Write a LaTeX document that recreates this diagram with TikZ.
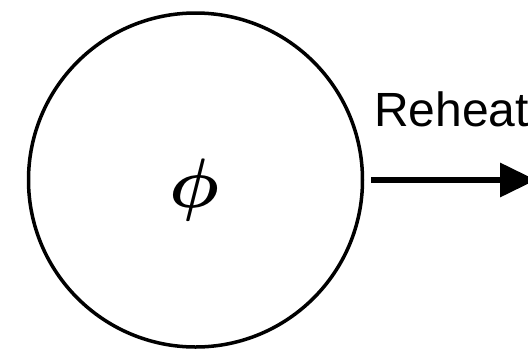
\documentclass[tikz,border=0pt]{standalone}
\usepackage{amsmath}
\usepackage{fontspec}
\setmainfont{Liberation Sans}
\usetikzlibrary{arrows.meta}
\begin{document}
\begin{tikzpicture}[x=1pt,y=-1pt,
  ring/.style={circle,draw,line width=3.5pt,minimum size=334pt,inner sep=0pt},
  flow/.style={line width=6.5pt,-{Triangle[length=36pt,width=33pt]}},
  lbl/.style={font=\fontsize{48}{48}\selectfont,anchor=base west,inner sep=0pt}]
\useasboundingbox (0,0) rectangle (528,349);
\clip (0,0) rectangle (528,349);
\node[ring] (c) at (195.5,180) {};
\node[anchor=center,inner sep=0pt] (phi) at (194.5,190) {\scalebox{7}{$\boldsymbol{\phi}$}};
\coordinate (s) at ([xshift=7pt]c.east);
\coordinate (e) at (536,180);
\draw[flow] (s) -- (e);
\node[lbl] (r) at (374,126) {Reheat};
\end{tikzpicture}
\end{document}
